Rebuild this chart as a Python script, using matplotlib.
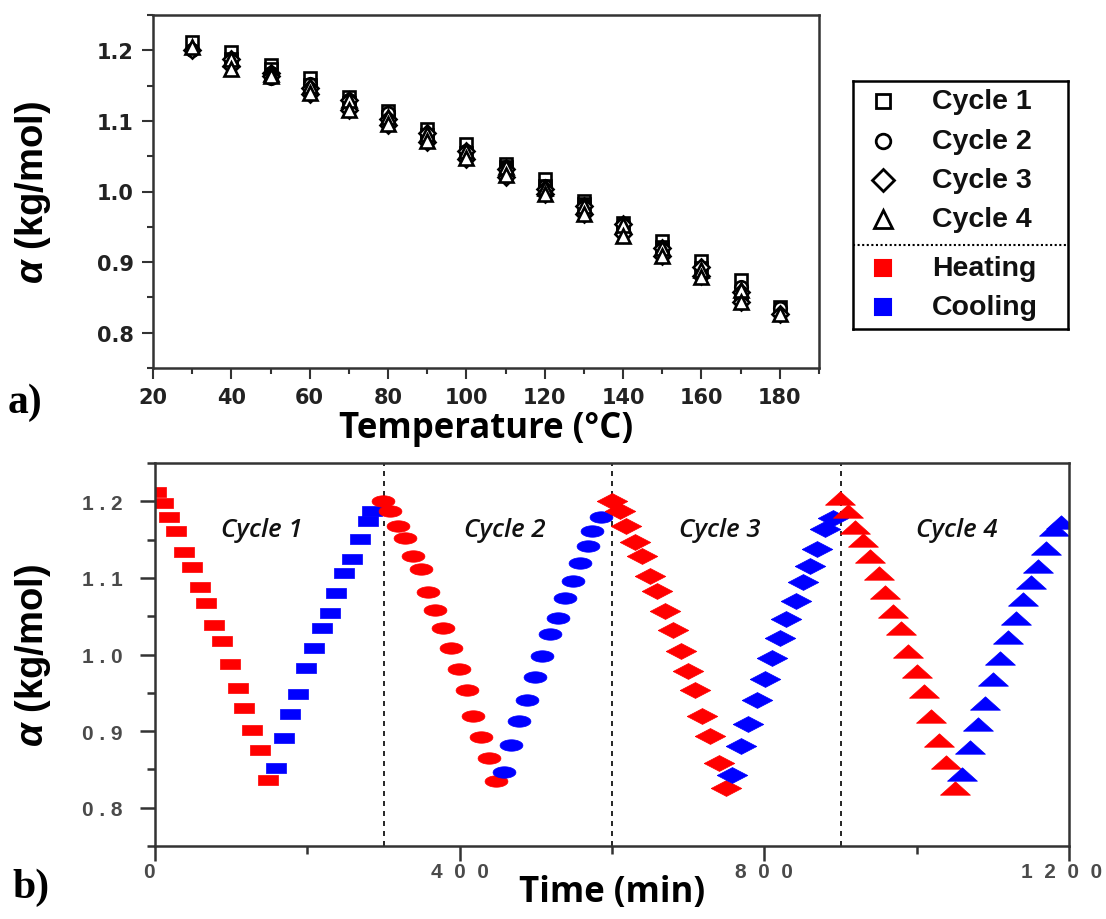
import numpy as np
import matplotlib
matplotlib.use("Agg")
import matplotlib.pyplot as plt
import matplotlib.transforms as mtransforms
from matplotlib.ticker import MultipleLocator

plt.rcParams['mathtext.fontset'] = 'custom'
plt.rcParams['mathtext.rm'] = 'Liberation Sans:bold'
plt.rcParams['mathtext.it'] = 'Liberation Sans:bold:italic'
plt.rcParams['mathtext.bf'] = 'Liberation Sans:bold'

# ---------------- data ----------------
temps_heat = [30, 40, 50, 60, 70, 80, 90, 100, 110, 120, 130, 140, 150, 160, 170, 180]
temps_cool = [170, 160, 150, 140, 130, 120, 110, 100, 90, 80, 70, 60, 50, 40]

cycles = ["Cycle 1", "Cycle 2", "Cycle 3", "Cycle 4"]

# heating (red) : time (min) and alpha (kg/mol)
heat_t = [
    [1, 11, 18, 28, 38, 49, 59, 67, 78, 88, 99, 109, 117, 128, 138, 149],
    [299, 309, 319, 328, 339, 349, 358, 367, 378, 389, 399, 409, 417, 428, 439, 448],
    [600, 610, 619, 630, 640, 650, 659, 670, 680, 690, 700, 709, 718, 729, 740, 750],
    [899, 910, 919, 929, 939, 950, 959, 969, 979, 989, 1000, 1009, 1019, 1029, 1039, 1050],
]
heat_a = [
    [1.212, 1.198, 1.179, 1.161, 1.134, 1.114, 1.088, 1.067, 1.039, 1.018, 0.987, 0.956, 0.930, 0.901, 0.875, 0.836],
    [1.201, 1.187, 1.168, 1.152, 1.129, 1.111, 1.081, 1.058, 1.034, 1.008, 0.981, 0.954, 0.920, 0.892, 0.865, 0.835],
    [1.201, 1.187, 1.168, 1.147, 1.129, 1.103, 1.083, 1.057, 1.032, 1.004, 0.979, 0.954, 0.920, 0.893, 0.858, 0.826],
    [1.204, 1.187, 1.167, 1.150, 1.129, 1.106, 1.082, 1.057, 1.035, 1.005, 0.979, 0.953, 0.920, 0.889, 0.860, 0.826],
]
# cooling (blue)
cool_t = [
    [159, 169, 177, 188, 198, 209, 219, 230, 237, 248, 258, 269, 279, 285],
    [458, 467, 478, 488, 499, 508, 519, 529, 538, 549, 558, 569, 574, 585],
    [758, 769, 779, 791, 801, 810, 820, 829, 841, 851, 860, 869, 879, 890],
    [1060, 1070, 1080, 1090, 1100, 1110, 1120, 1130, 1140, 1150, 1159, 1170, 1180, 1190],
]
cool_a = [
    [0.852, 0.891, 0.922, 0.948, 0.982, 1.008, 1.034, 1.054, 1.080, 1.106, 1.125, 1.151, 1.174, 1.187],
    [0.846, 0.882, 0.913, 0.941, 0.970, 0.998, 1.027, 1.048, 1.074, 1.096, 1.119, 1.141, 1.161, 1.180],
    [0.843, 0.881, 0.909, 0.940, 0.968, 0.996, 1.021, 1.046, 1.070, 1.094, 1.115, 1.138, 1.164, 1.178],
    [0.844, 0.879, 0.909, 0.937, 0.968, 0.996, 1.023, 1.048, 1.072, 1.095, 1.115, 1.139, 1.164, 1.173],
]
cycle_boundaries = [300, 600, 900]
cycle_label_t = [140, 459, 741, 1053]
cycle_label_a = 1.163

top_xticks = [20, 40, 60, 80, 100, 120, 140, 160, 180]
top_xticklabels = ["20", "40", "60", "80", "100", "120", "140", "160", "180"]
top_yticks = [0.8, 0.9, 1.0, 1.1, 1.2]
top_yticklabels = ["0.8", "0.9", "1.0", "1.1", "1.2"]
bot_xticks = [0, 400, 800, 1200]
bot_xticklabels = ["0", "4  0  0", "8  0  0", "1  2  0  0"]
bot_yticks = [0.8, 0.9, 1.0, 1.1, 1.2]
bot_yticklabels = ["0 . 8", "0 . 9", "1 . 0", "1 . 1", "1 . 2"]

# ---------------- styles ----------------
RED = "#ff0000"
BLUE = "#0000ff"
SPINE = "#333333"

def ellipse_marker(h=0.5):
    th = np.linspace(0, 2 * np.pi, 40)
    return np.column_stack([np.cos(th), h * np.sin(th)])

bot_markers = [
    (np.array([[-1, -0.52], [1, -0.52], [1, 0.52], [-1, 0.52], [-1, -0.52]]), 13.7),
    (ellipse_marker(0.5), 16.5),
    (np.array([[-1, 0], [0, 0.52], [1, 0], [0, -0.52], [-1, 0]]), 22),
    (np.array([[-1, -0.45], [1, -0.45], [0, 0.45], [-1, -0.45]]), 21.5),
]
top_markers = [('s', 8.5), ('o', 9), ('D', 8.5), ('^', 10)]

top_tick_font = dict(fontfamily='DejaVu Sans', fontweight='bold', fontsize=15, color='#222222')
bot_tick_font = dict(fontfamily='Liberation Sans', fontweight='bold', fontsize=15, color='#4a4a4a')

fig = plt.figure(figsize=(11.06, 9.2), dpi=100)
W, H = 1106, 920

def add_ax(l, t, r, b):
    return fig.add_axes([l / W, 1 - b / H, (r - l) / W, (b - t) / H])

# ---------------- top panel ----------------
ax1 = add_ax(153, 16, 819, 369)
for i in range(4):
    m, ms = top_markers[i]
    ax1.plot(temps_heat, heat_a[i], linestyle='none', marker=m, ms=ms,
             mfc='white', mec='black', mew=1.9)
    ax1.plot(temps_cool, cool_a[i], linestyle='none', marker=m, ms=ms,
             mfc='white', mec='black', mew=1.9)
ax1.set_xlim(20, 190)
ax1.set_ylim(0.75, 1.25)
ax1.set_xticks(top_xticks, top_xticklabels, **top_tick_font)
ax1.set_yticks(top_yticks, top_yticklabels, **top_tick_font)
ax1.xaxis.set_minor_locator(MultipleLocator(10))
ax1.yaxis.set_minor_locator(MultipleLocator(0.05))
ax1.tick_params(which='both', direction='out', color=SPINE, width=1.5, top=False, right=False)
ax1.tick_params(which='major', length=8, pad=6)
ax1.tick_params(which='minor', length=4.5)
for sp in ax1.spines.values():
    sp.set_color(SPINE)
    sp.set_linewidth(1.8)
ax1.set_xlabel("Temperature (°C)", fontfamily='Open Sans', fontweight='bold', fontsize=25, labelpad=2)
ax1.set_ylabel(r"$\mathit{\alpha}$ (kg/mol)", fontfamily='Liberation Sans', fontweight='bold', fontsize=27.5)
ax1.yaxis.set_label_coords((53 - 153) / 666, 0.5)

# ---------------- bottom panel ----------------
ax2 = add_ax(155, 464, 1069, 847)
for i in range(4):
    verts, ms = bot_markers[i]
    ax2.plot(heat_t[i], heat_a[i], linestyle='none', marker=verts, ms=ms,
             mfc=RED, mec=RED, mew=0.5)
    ax2.plot(cool_t[i], cool_a[i], linestyle='none', marker=verts, ms=ms,
             mfc=BLUE, mec=BLUE, mew=0.5)
for xb in cycle_boundaries:
    ax2.axvline(xb, color='black', linestyle=(0, (3, 3)), linewidth=1.2, zorder=0)
for i, c in enumerate(cycles):
    ax2.text(cycle_label_t[i], cycle_label_a, c, ha='center', va='center',
             fontfamily='Open Sans', fontstyle='italic', fontweight='semibold',
             fontsize=18.5, color='#111111')
ax2.set_xlim(0, 1200)
ax2.set_ylim(0.75, 1.25)
ax2.set_xticks(bot_xticks, bot_xticklabels, **bot_tick_font)
ax2.set_yticks(bot_yticks, bot_yticklabels, **bot_tick_font)
ax2.xaxis.set_minor_locator(MultipleLocator(200))
ax2.yaxis.set_minor_locator(MultipleLocator(0.05))
ax2.tick_params(which='both', direction='out', color=SPINE, width=1.8, top=False, right=False)
ax2.tick_params(which='major', length=10.5, pad=1)
ax2.tick_params(which='minor', length=6)
ax2.tick_params(axis='y', which='major', pad=13)
for sp in ax2.spines.values():
    sp.set_color(SPINE)
    sp.set_linewidth(1.8)
ax2.set_xlabel("Time (min)", fontfamily='Open Sans', fontweight='bold', fontsize=25, labelpad=-5)
ax2.set_ylabel(r"$\mathit{\alpha}$ (kg/mol)", fontfamily='Liberation Sans', fontweight='bold', fontsize=27.5)
ax2.yaxis.set_label_coords((53 - 155) / 914, 0.5)

# nudge first and last x tick labels (as in the reference)
xt = ax2.xaxis.get_major_ticks()
for tk, dx in ((xt[0], -6), (xt[-1], -7)):
    lbl = tk.label1
    lbl.set_transform(lbl.get_transform() + mtransforms.ScaledTranslation(dx / 100, 0, fig.dpi_scale_trans))

# ---------------- legend ----------------
lax = add_ax(853, 82, 1068, 330)
lax.set_xlim(0, 215)
lax.set_ylim(248, 0)
lax.set_xticks([])
lax.set_yticks([])
for sp in lax.spines.values():
    sp.set_color('black')
    sp.set_linewidth(1.8)
leg_rows = [20, 60, 99, 138, 187, 226]
leg_markers = [('s', 10.5), ('o', 10.5), ('D', 11), ('^', 12.5)]
for i in range(4):
    m, ms = leg_markers[i]
    lax.plot([30], [leg_rows[i]], marker=m, ms=ms, mfc='white', mec='black', mew=2, linestyle='none')
    lax.text(79, leg_rows[i], cycles[i], ha='left', va='center', fontfamily='Liberation Sans',
             fontweight='bold', fontsize=20.5, color='#111111')
lax.plot([30], [leg_rows[4]], marker='s', ms=12, mfc=RED, mec=RED, mew=1.5, linestyle='none')
lax.plot([30], [leg_rows[5]], marker='s', ms=12, mfc=BLUE, mec=BLUE, mew=1.5, linestyle='none')
lax.text(79, leg_rows[4], "Heating", ha='left', va='center', fontfamily='Liberation Sans',
         fontweight='bold', fontsize=20.5, color='#111111')
lax.text(79, leg_rows[5], "Cooling", ha='left', va='center', fontfamily='Liberation Sans',
         fontweight='bold', fontsize=20.5, color='#111111')
lax.axhline(164, color='black', linestyle=(0, (1, 1.2)), linewidth=1.5)

# ---------------- panel letters ----------------
fig.text(8 / W, 1 - 403 / H, "a)", fontfamily='Liberation Serif', fontweight='bold', fontsize=30,
         ha='left', va='center')
fig.text(12 / W, 1 - 888 / H, "b)", fontfamily='Liberation Serif', fontweight='bold', fontsize=30,
         ha='left', va='center')

fig.savefig("out.png", dpi=100)
